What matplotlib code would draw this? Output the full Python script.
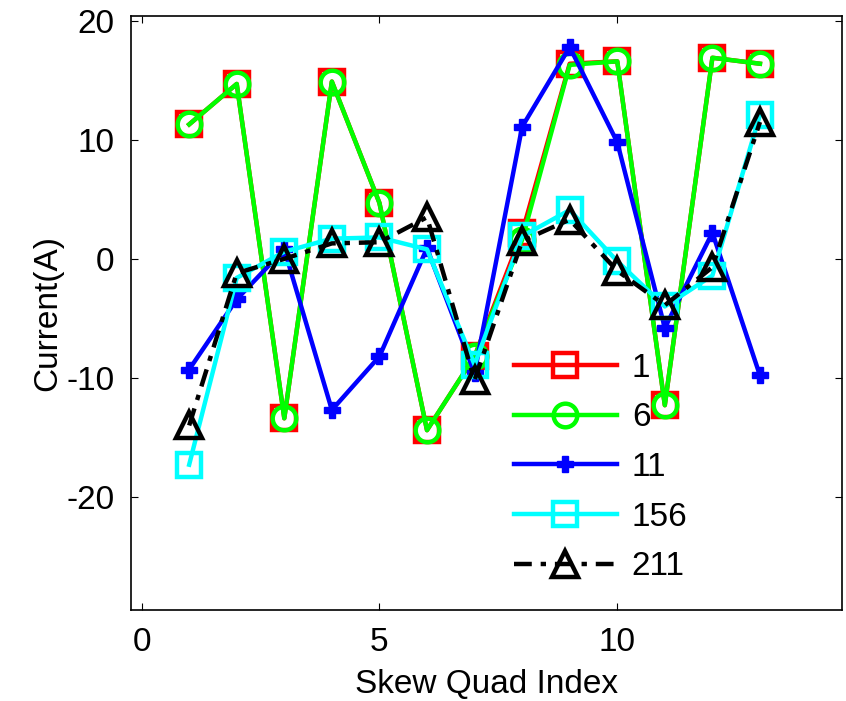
import numpy as np
import matplotlib
matplotlib.use("Agg")
import matplotlib.pyplot as plt

plt.rcParams['font.family'] = ['Liberation Sans', 'DejaVu Sans']
plt.rcParams['axes.unicode_minus'] = False

# skew quad index
idx = np.arange(1, 14)

# currents (A) for each case
cur_1 = [11.3, 14.7, -13.4, 14.9, 4.7, -14.4, -8.2, 2.2, 16.4, 16.6, -12.3, 16.9, 16.4]
cur_6 = [11.3, 14.7, -13.4, 14.9, 4.7, -14.4, -8.2, 1.6, 16.3, 16.6, -12.3, 16.9, 16.4]
cur_11 = [-9.3, -3.4, 0.8, -12.7, -8.2, 0.9, -9.6, 11.1, 17.8, 9.8, -5.8, 2.2, -9.8]
cur_156 = [-17.3, -1.6, 0.6, 1.7, 1.8, 0.8, -8.9, 1.9, 4.1, -0.2, -4.0, -1.4, 12.1]
cur_211 = [-14.0, -1.2, 0.0, 1.3, 1.4, 3.5, -10.2, 1.5, 3.3, -1.0, -3.9, -0.7, 11.5]

labels = ['1', '6', '11', '156', '211']

fig = plt.figure(figsize=(8.46, 7.01), dpi=100)
ax = fig.add_axes([0.155, 0.13, 0.840, 0.847])

lw = 3.2
ax.plot(idx, cur_1, color='red', lw=lw, marker='s', ms=17, mfc='none',
        mec='red', mew=3.2, label=labels[0])
ax.plot(idx, cur_6, color='#00ff00', lw=lw, marker='o', ms=17, mfc='none',
        mec='#00ff00', mew=3.2, label=labels[1])
ax.plot(idx, cur_11, color='blue', lw=lw, marker='P', ms=12, mfc='blue',
        mec='blue', mew=1, label=labels[2])
ax.plot(idx, cur_156, color='cyan', lw=lw, marker='s', ms=17, mfc='none',
        mec='cyan', mew=3.2, label=labels[3])
ax.plot(idx, cur_211, color='black', lw=lw, marker='^', ms=19, mfc='none',
        mec='black', mew=3.2, dashes=(4, 2, 1.2, 2), label=labels[4])

ax.set_xlim(-0.22, 14.72)
ax.set_ylim(-29.5, 20.4)
ax.set_xticks([0, 5, 10])
ax.set_yticks([-20, -10, 0, 10, 20])
ax.tick_params(direction='in', length=5, top=True, right=True, labelsize=24, pad=12)
for s in ax.spines.values():
    s.set_linewidth(1.2)

ax.set_xlabel('Skew Quad Index', fontsize=24, labelpad=8)
ax.set_ylabel('Current(A)', fontsize=24, labelpad=2)

ax.legend(loc='upper left', bbox_to_anchor=(0.607, 0.497), bbox_transform=fig.transFigure,
          frameon=False, fontsize=24, handlelength=3.1, handletextpad=0.45,
          labelspacing=0.56, borderpad=0, borderaxespad=0)

fig.savefig('out.png', dpi=100)
